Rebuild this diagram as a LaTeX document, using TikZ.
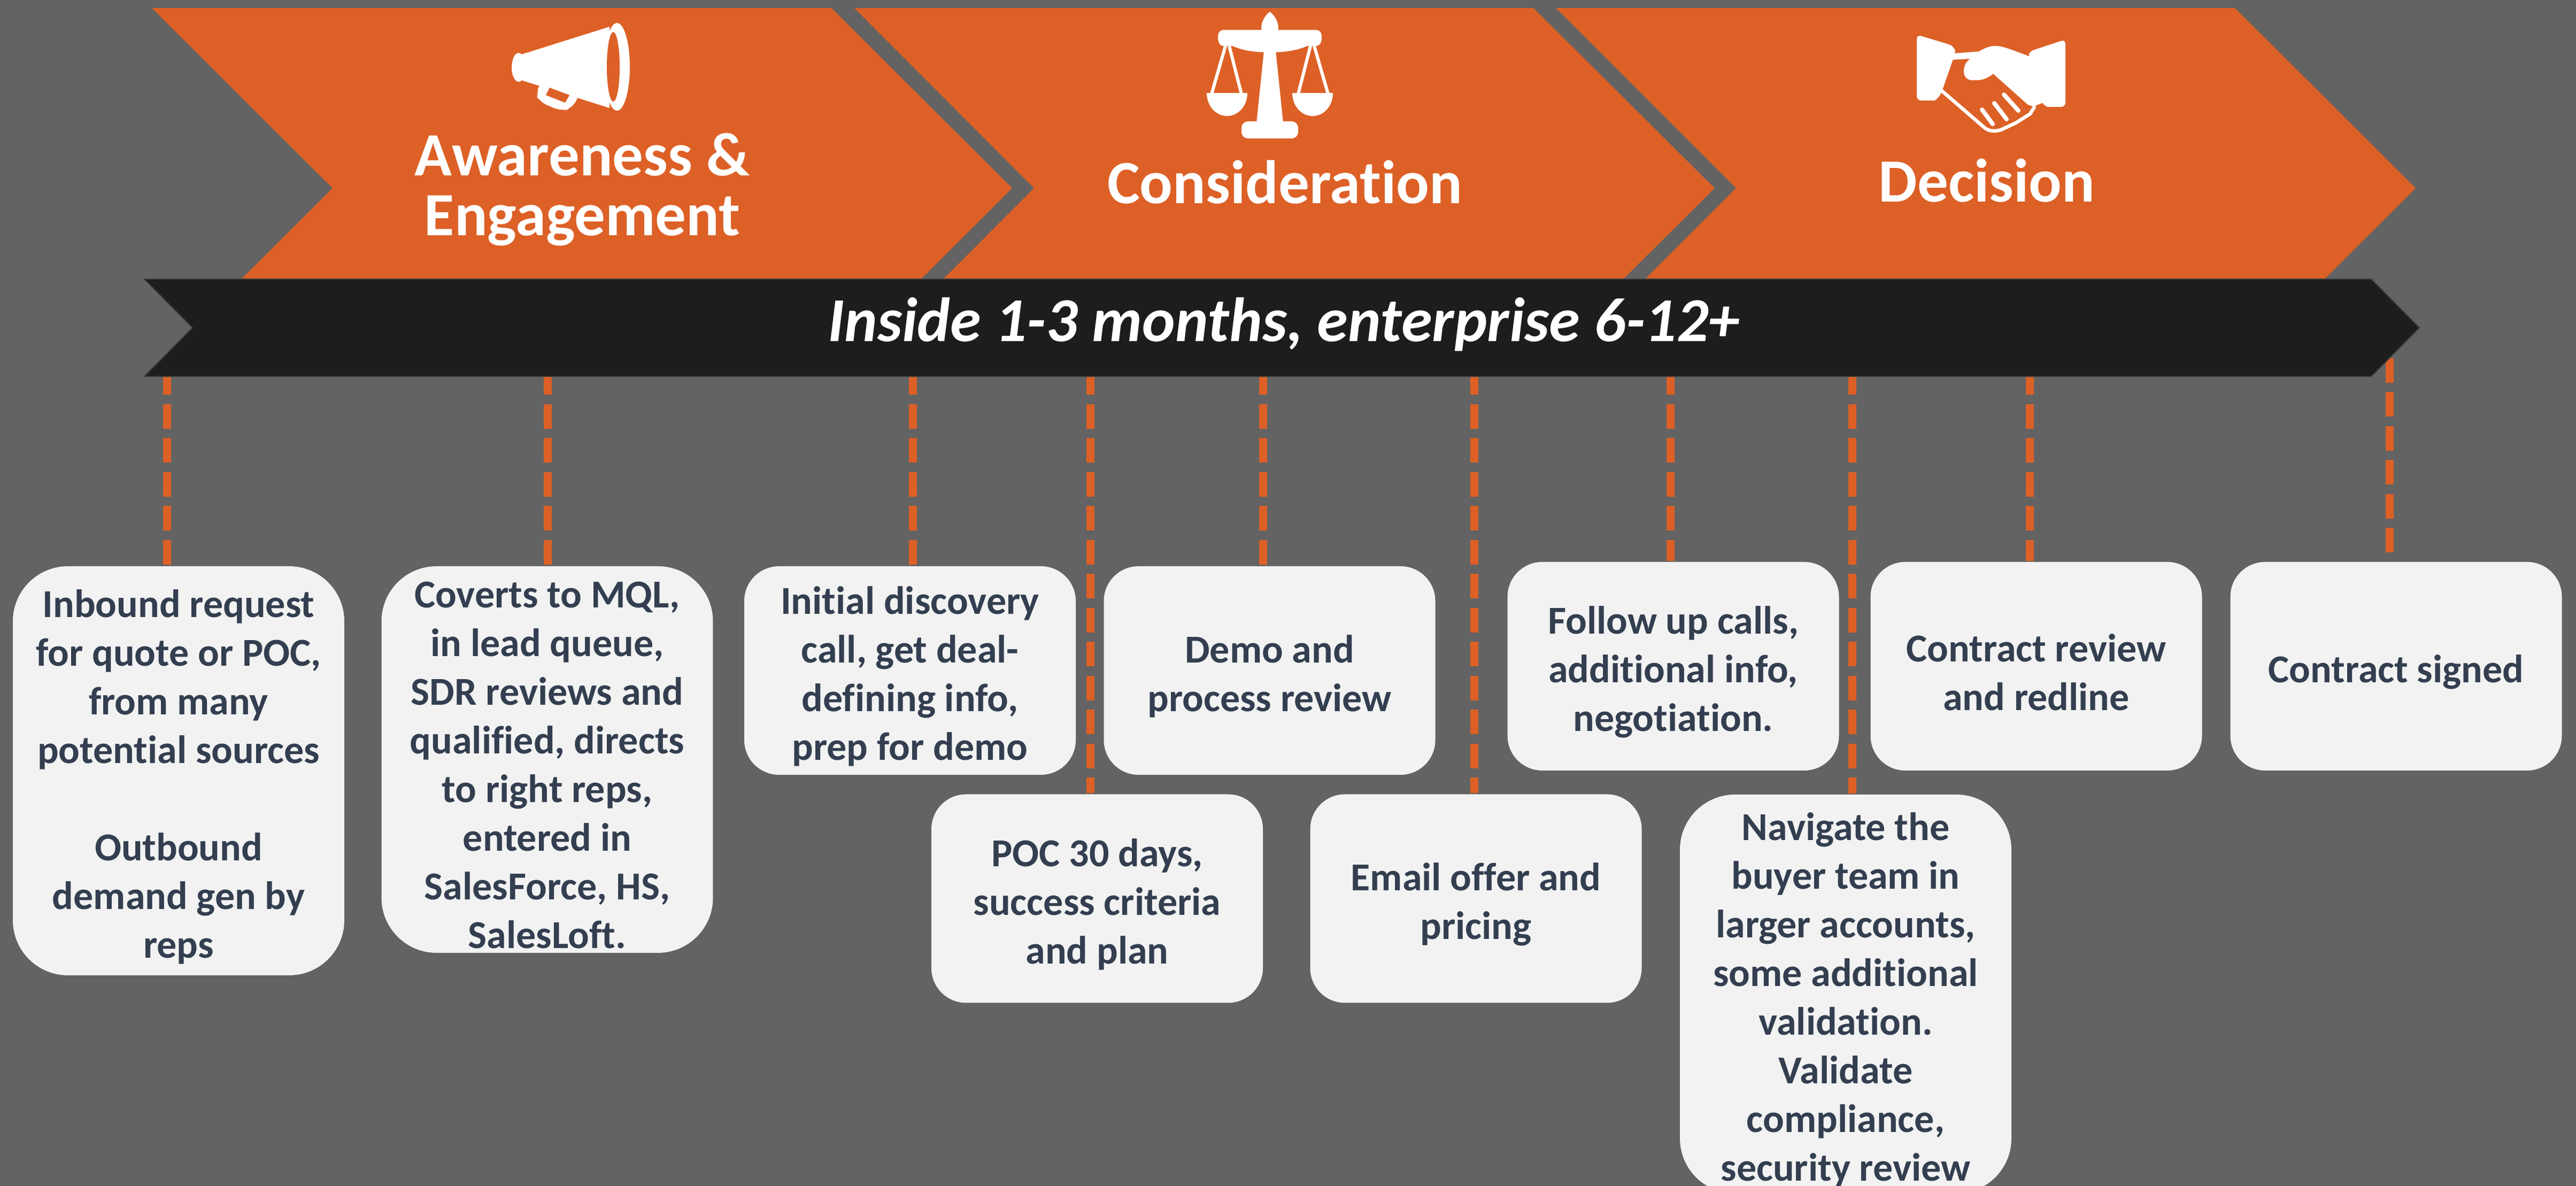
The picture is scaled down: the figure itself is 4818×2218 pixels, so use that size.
\documentclass[tikz,border=0pt]{standalone}
\usepackage{fontspec}
\setmainfont{Carlito}[Ligatures={NoCommon}]
\definecolor{bgc}{RGB}{99,99,99}
\definecolor{org}{RGB}{221,96,38}
\definecolor{barc}{RGB}{29,29,29}
\definecolor{cardc}{RGB}{242,242,242}
\definecolor{txtc}{RGB}{51,63,80}
\begin{document}
\begin{tikzpicture}[x=0.1pt,y=-0.1pt,
  card/.style={fill=cardc, rounded corners=6.5pt, minimum width=62pt, minimum height=39pt, inner sep=0pt},
  tallcard/.style={card, rounded corners=10.3pt},
  cardtext/.style={inner sep=0pt, align=center, text=txtc, font=\fontsize{7.4}{9.1}\selectfont\bfseries},
  link/.style={draw=org, line width=1.5pt, dash pattern=on 4.6pt off 1.75pt},
  title/.style={text=white, font=\fontsize{11.5}{11.2}\selectfont\bfseries, align=center, inner sep=0pt},
]
\useasboundingbox (0,0) rectangle (4818,2218);
\clip (0,0) rectangle (4818,2218);
\fill[bgc] (0,0) rectangle (4818,2218);

% chevrons
\fill[org] (284,15) -- (1555,15) -- (1893,352) -- (1555,689) -- (284,689) -- (622,352) -- cycle;
\fill[org] (1598,15) -- (2868,15) -- (3207,352) -- (2868,689) -- (1598,689) -- (1934,352) -- cycle;
\fill[org] (2910,15) -- (4180,15) -- (4518,352) -- (4180,689) -- (2910,689) -- (3247,352) -- cycle;

% megaphone
\fill[white] (970,126) ellipse [x radius=13, y radius=27];
\fill[white] (975,102) -- (1140,50) -- (1140,202) -- (975,150) -- cycle;
\fill[white] (1154,125) ellipse [x radius=24, y radius=82];
\fill[org] (1147,125) ellipse [x radius=12, y radius=65];
\fill[white, rounded corners=1.5pt] (1012,152) -- (1002,175) -- (1008,190) -- (1050,208) -- (1070,203) -- (1086,172) -- cycle;
\fill[org] (1028,164) -- (1021,178) -- (1057,192) -- (1065,178) -- cycle;

% scales
\fill[white] (2375,22) .. controls (2388,32) and (2393,48) .. (2390,58) -- (2360,58) .. controls (2357,48) and (2362,32) .. (2375,22) -- cycle;
\fill[white] (2290,56) -- (2460,56) .. controls (2470,56) and (2472,62) .. (2472,70) .. controls (2472,80) and (2468,86) .. (2462,86) -- (2445,86) .. controls (2425,95) and (2400,98) .. (2375,98) .. controls (2350,98) and (2325,95) .. (2305,86) -- (2288,86) .. controls (2282,86) and (2278,80) .. (2278,70) .. controls (2278,62) and (2280,56) .. (2290,56) -- cycle;
\fill[white] (2364,95) -- (2386,95) -- (2400,230) -- (2350,230) -- cycle;
\fill[white, rounded corners=1.2pt] (2322,227) rectangle (2428,259);
\draw[white, line width=0.6pt] (2292,86) -- (2266,176) (2299,86) -- (2322,176);
\draw[white, line width=0.6pt] (2451,86) -- (2428,176) (2458,86) -- (2484,176);
\fill[white] (2257,174) -- (2333,174) .. controls (2333,198) and (2316,217) .. (2295,217) .. controls (2274,217) and (2257,198) .. (2257,174) -- cycle;
\fill[white] (2417,174) -- (2493,174) .. controls (2493,198) and (2476,217) .. (2455,217) .. controls (2434,217) and (2417,198) .. (2417,174) -- cycle;

% handshake
\fill[white, rounded corners=0.8pt] (3585,65) -- (3642,82) .. controls (3652,86) and (3657,94) .. (3656,102) -- (3633,168) .. controls (3628,180) and (3620,188) .. (3610,188) -- (3585,188) -- cycle;
\fill[white] (3652,100) -- (3705,96) -- (3700,109) -- (3650,112) -- cycle;
\fill[white] (3700,97) .. controls (3712,90) and (3720,86) .. (3732,86) .. controls (3745,86) and (3760,92) .. (3797,106) -- (3822,192) -- (3803,199) -- (3793,196) -- (3728,138) .. controls (3718,146) and (3708,150) .. (3698,150) -- (3686,150) .. controls (3676,148) and (3672,140) .. (3673,130) .. controls (3674,120) and (3680,112) .. (3690,106) -- cycle;
\fill[white, rounded corners=0.8pt] (3863,74) -- (3863,200) -- (3838,200) .. controls (3828,200) and (3822,195) .. (3818,188) -- (3795,108) .. controls (3795,100) and (3800,95) .. (3808,92) -- cycle;
\draw[white, line width=0.65pt, line cap=round, line join=round] (3632,170) -- (3713,240) .. controls (3722,246) and (3732,246) .. (3742,243) -- (3770,230) -- (3797,213) -- (3805,200);
\draw[white, line width=0.8pt, line cap=round] (3707,205) -- (3727,232) (3730,193) -- (3753,223) (3748,177) -- (3775,207);

% stage titles
\node[title] (t1) at (1089,355) {Awareness \&\\Engagement};
\node[title, anchor=base] (t2) at (2403,381) {Consideration};
\node[title, anchor=base] (t3) at (3716,378) {Decision};

% cards
\node[tallcard, minimum height=76.5pt] (b1) at (334,1441.5) {};
\node[tallcard, minimum height=72.3pt] (b2) at (1023.5,1420.5) {};
\node[card] (b3) at (1702,1254) {};
\node[card] (b4) at (2374.5,1254) {};
\node[card] (b5) at (2052,1680.5) {};
\node[card] (b6) at (2760.5,1680.5) {};
\node[card] (b7) at (3129.5,1246) {};
\node[tallcard, minimum height=74.6pt] (b8) at (3452,1859) {};
\node[card] (b9) at (3808.5,1246) {};
\node[card] (b10) at (4481.5,1246) {};

\node[cardtext] (l1) at ([yshift=-1.1pt]b1.center) {Inbound request\\for quote or POC,\\from many\\potential sources\\[9.1pt]Outbound\\demand gen by\\reps};
\node[cardtext] (l2) at ([yshift=-1.1pt]b2.center) {Coverts to MQL,\\in lead queue,\\SDR reviews and\\qualified, directs\\to right reps,\\entered in\\SalesForce, HS,\\SalesLoft.};
\node[cardtext] (l3) at ([yshift=-1.1pt]b3.center) {Initial discovery\\call, get deal-\\defining info,\\prep for demo};
\node[cardtext] (l4) at ([yshift=-1.1pt]b4.center) {Demo and\\process review};
\node[cardtext] (l5) at ([yshift=-1.1pt]b5.center) {POC 30 days,\\success criteria\\and plan};
\node[cardtext] (l6) at ([yshift=-1.1pt]b6.center) {Email offer and\\pricing};
\node[cardtext] (l7) at ([yshift=-1.1pt]b7.center) {Follow up calls,\\additional info,\\negotiation.};
\node[cardtext] (l8) at ([yshift=-1.1pt]b8.center) {Navigate the\\buyer team in\\larger accounts,\\some additional\\validation.\\Validate\\compliance,\\security review};
\node[cardtext] (l9) at ([yshift=-1.1pt]b9.center) {Contract review\\and redline};
\node[cardtext] (l10) at ([yshift=-1.1pt]b10.center) {Contract signed};

% dashed connectors
\coordinate (d1) at (312,692.5);
\coordinate (d2) at (1024,692.5);
\coordinate (d3) at (1707,692.5);
\coordinate (d4) at (2362,692.5);
\coordinate (d5) at (2039,692.5);
\coordinate (d6) at (2757,692.5);
\coordinate (d7) at (3124,692.5);
\coordinate (d8) at (3464,692.5);
\coordinate (d9) at (3796,692.5);
\coordinate (d10) at (4469,670);
\foreach \i in {1,...,10} {\draw[link] (d\i) -- (d\i |- b\i.north);}

% timeline bar
\fill[barc, draw={rgb,255:red,60;green,60;blue,60}, line width=0.2pt] (270,522) -- (4435,522) -- (4525,613) -- (4435,704) -- (270,704) -- (360,613) -- cycle;
\node[text=white, font=\fontsize{11.7}{14}\selectfont\bfseries\itshape, anchor=base, inner sep=0pt] (bartext) at (2401,639) {Inside 1-3 months, enterprise 6-12+};
\end{tikzpicture}
\end{document}
